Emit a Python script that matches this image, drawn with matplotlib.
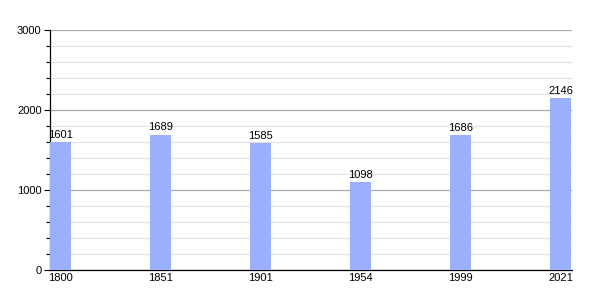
import matplotlib
matplotlib.use("Agg")
import matplotlib.pyplot as plt
from matplotlib.ticker import MultipleLocator

years = ["1800", "1851", "1901", "1954", "1999", "2021"]
population = [1601, 1689, 1585, 1098, 1686, 2146]

plt.rcParams["font.family"] = ["Liberation Sans", "DejaVu Sans"]

fig = plt.figure(figsize=(6, 3), dpi=100)
ax = fig.add_axes([50/600, 30/300, 522/600, 240/300])

pos = list(range(len(years)))
width = 0.21
ax.bar(pos, population, width=width, align="edge", color="#9bb0fd",
       edgecolor="none", zorder=3)
for p, v in zip(pos, population):
    ax.text(p + width/2, v + 30, str(v), ha="center", va="bottom", fontsize=8,
            color="black", zorder=4)

ax.set_xlim(0, 5.22)
ax.set_ylim(0, 3000)
ax.set_xticks([p + width/2 for p in pos])
ax.set_xticklabels(years)
ax.yaxis.set_major_locator(MultipleLocator(1000))
ax.yaxis.set_minor_locator(MultipleLocator(200))
ax.grid(which="major", axis="y", color="#aaaaaa", linewidth=0.9, zorder=1)
ax.grid(which="minor", axis="y", color="#e4e4e4", linewidth=0.9, zorder=1)
ax.tick_params(axis="y", which="major", length=4, width=0.8, labelsize=8, pad=2)
ax.tick_params(axis="y", which="minor", length=3, width=0.8)
ax.tick_params(axis="x", length=0, labelsize=8, pad=2)
for s in ["top", "right"]:
    ax.spines[s].set_visible(False)
ax.spines["left"].set_linewidth(0.9)
ax.spines["bottom"].set_linewidth(0.9)
ax.set_axisbelow(True)

fig.savefig("out.png", dpi=100)
